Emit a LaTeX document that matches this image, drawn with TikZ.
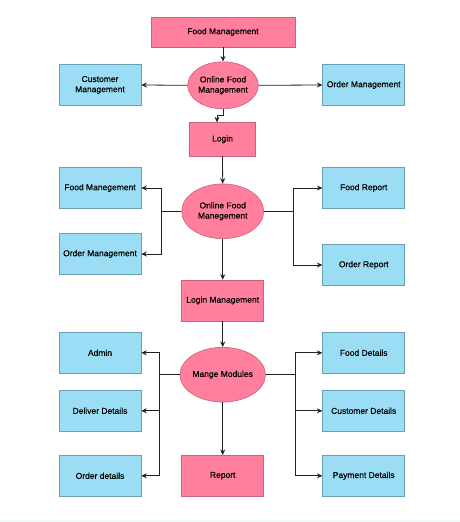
\documentclass[tikz,border=0pt]{standalone}
\usepackage{fontspec}
\setmainfont{Liberation Sans}[FakeBold=0.35]
\usetikzlibrary{shapes.geometric,arrows.meta}
\definecolor{pinkfill}{HTML}{FF7F9C}
\definecolor{pinkline}{HTML}{C8627C}
\definecolor{bluefill}{HTML}{9BDDF5}
\definecolor{blueline}{HTML}{6A9FB5}
\definecolor{edgecol}{HTML}{222222}
\definecolor{stripcol}{HTML}{F3F8F8}
\begin{document}
\begin{tikzpicture}[x=1pt,y=-1pt,
  every node/.style={font=\fontsize{8.5}{10.2}\selectfont, text=black, align=center, inner sep=0pt},
  pinkbox/.style={draw=pinkline, fill=pinkfill, line width=0.6pt, rectangle, minimum width=82pt, minimum height=41pt},
  bluebox/.style={draw=blueline, fill=bluefill, line width=0.6pt, rectangle, minimum width=82pt, minimum height=41pt},
  pinkell/.style={draw=pinkline, fill=pinkfill, line width=0.6pt, ellipse, minimum width=82pt, minimum height=54.7pt},
  conn/.style={draw=edgecol, line width=0.8pt, -{Stealth[length=5.5pt,width=5pt]}}
]
\useasboundingbox (0,0) rectangle (460,522);
\fill[white] (0,0) rectangle (460,522);
\fill[stripcol] (0,520) rectangle (460,522);

% top section
\node[pinkbox, minimum width=144pt, minimum height=30pt] (fm) at (223,32) {Food Management};
\node[pinkell, minimum width=70.7pt, minimum height=47pt] (e1) at (223,85.3) {Online Food\\Management};
\node[bluebox] (cm) at (100,85) {Customer\\Management};
\node[bluebox] (om1) at (363.7,85) {Order Management};
\node[pinkbox, minimum width=66.4pt, minimum height=33.3pt] (login) at (222.5,139.3) {Login};

% middle section
\node[pinkell] (e2) at (222.7,211.3) {Online Food\\Manegement};
\node[bluebox] (fm2) at (100,188) {Food Manegement};
\node[bluebox] (om2) at (100,254) {Order Management};
\node[bluebox] (fr) at (363.7,188) {Food Report};
\node[bluebox] (orp) at (363.7,265) {Order Report};
\node[pinkbox] (lm) at (222.7,300.5) {Login Management};

% bottom section
\node[pinkell] (e3) at (222.7,374.7) {Mange Modules};
\node[bluebox] (admin) at (100,352.8) {Admin};
\node[bluebox] (dd) at (100,410.8) {Deliver Details};
\node[bluebox] (od) at (100,475.8) {Order details};
\node[bluebox] (fd) at (363.7,352.8) {Food Details};
\node[bluebox] (cd) at (363.7,410.8) {Customer Details};
\node[bluebox] (pd) at (363.7,475.8) {Payment Details};
\node[pinkbox] (rep) at (222.7,475.8) {Report};

% connectors
\draw[conn] (fm.south) -- (e1.north);
\draw[conn] (e1.west) -- (cm.east);
\draw[conn] (e1.east) -- (om1.east -| om1.west);
\draw[conn] (e1.south) -- ++(0,6.5) -| ([xshift=-5.5pt]login.north);
\draw[conn] (login.south) -- (e2.north);

\draw[conn] (e2.west) -- ++(-20,0) |- (fm2.east);
\draw[conn] (e2.west) -- ++(-20,0) |- (om2.east);
\draw[conn] (e2.east) -- ++(29.6,0) |- (fr.west);
\draw[conn] (e2.east) -- ++(29.6,0) |- (orp.west);
\draw[conn] (e2.south) -- (lm.north);
\draw[conn] (lm.south) -- (e3.north);

\draw[conn] (e3.west) -- ++(-20,0) |- (admin.east);
\draw[conn] (e3.west) -- ++(-20,0) |- (dd.east);
\draw[conn] (e3.west) -- ++(-20,0) |- (od.east);
\draw[conn] (e3.east) -- ++(29.6,0) |- (fd.west);
\draw[conn] (e3.east) -- ++(29.6,0) |- (cd.west);
\draw[conn] (e3.east) -- ++(29.6,0) |- (pd.west);
\draw[conn] (e3.south) -- (rep.north);
\end{tikzpicture}
\end{document}
